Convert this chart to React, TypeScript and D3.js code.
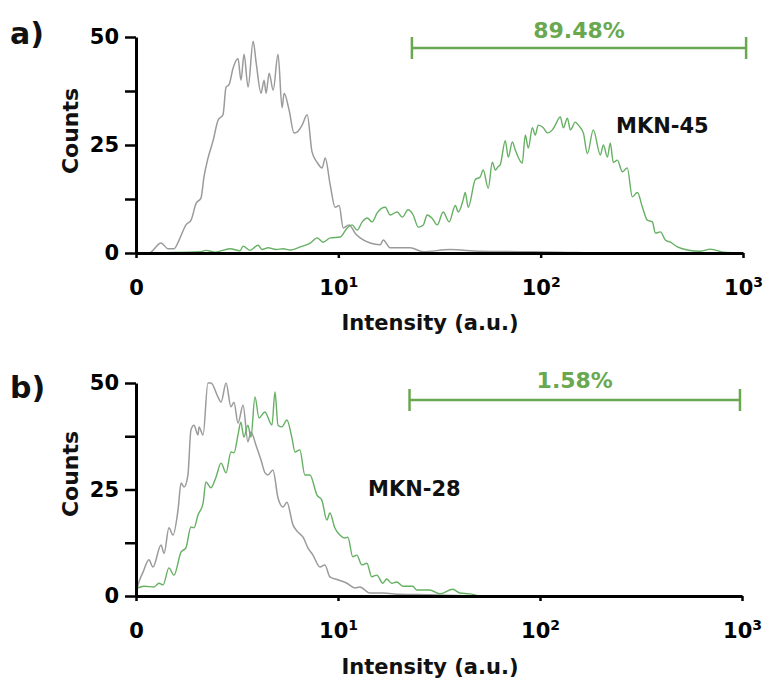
import React, { useRef, useEffect } from 'react';
import * as d3 from 'd3';

// [log10 intensity, counts]
const grayA = [
  [0, 0], [0.064, 0], [0.124, 2.3], [0.158, 1], [0.188, 1], [0.213, 3], [0.247, 6.5], [0.272, 7.6],
  [0.297, 11.5], [0.321, 12.7], [0.336, 17.6], [0.356, 22], [0.381, 26], [0.406, 30.8], [0.43, 32],
  [0.445, 38.4], [0.46, 39], [0.48, 42.8], [0.504, 45], [0.519, 40], [0.534, 46], [0.554, 38.4],
  [0.579, 49], [0.594, 44], [0.618, 37], [0.633, 40], [0.643, 37], [0.658, 41.6], [0.678, 37.7],
  [0.702, 46], [0.722, 33.6], [0.732, 37], [0.757, 33], [0.781, 27.8], [0.796, 28], [0.821, 29.6],
  [0.846, 32], [0.87, 23.4], [0.895, 21], [0.92, 19.7], [0.935, 22], [0.96, 15.7], [0.984, 10.6],
  [1.004, 11], [1.024, 5.8], [1.053, 6.5], [1.083, 4.6], [1.108, 3.5], [1.157, 2.3], [1.207, 1.9],
  [1.222, 3], [1.256, 1.2], [1.355, 1.2], [1.42, 0.3], [1.553, 0.8], [1.701, 0.4], [1.899, 0.3],
  [2.097, 0.2], [2.295, 0], [3, 0],
];

const greenA = [
  [0, 0], [0.317, 0.3], [0.346, 0.6], [0.391, 0.2], [0.465, 1], [0.514, 0.5], [0.529, 1.6], [0.564, 0.6],
  [0.603, 1.8], [0.623, 0.8], [0.653, 1.2], [0.692, 0.8], [0.727, 1], [0.762, 0.7], [0.811, 1.4],
  [0.861, 2.3], [0.895, 3.5], [0.925, 2.5], [0.96, 3.5], [1.009, 3.7], [1.044, 5.8], [1.068, 6.5],
  [1.093, 5.3], [1.118, 7.2], [1.143, 8.1], [1.167, 7.2], [1.192, 9.3], [1.232, 10.6], [1.256, 8.8],
  [1.291, 9.5], [1.316, 8.3], [1.345, 10], [1.37, 8.8], [1.395, 6], [1.42, 6.5], [1.439, 8.8],
  [1.464, 8], [1.489, 6.5], [1.518, 9.5], [1.548, 7.2], [1.578, 11], [1.593, 9.5], [1.617, 12.3],
  [1.627, 14], [1.642, 10.6], [1.677, 17], [1.701, 17.6], [1.716, 19.2], [1.741, 15], [1.761, 21],
  [1.776, 19.2], [1.79, 20], [1.8, 20.4], [1.825, 26], [1.84, 22.2], [1.86, 25.7], [1.875, 23.8],
  [1.909, 20.8], [1.924, 27.3], [1.939, 24.3], [1.959, 29], [1.973, 27.3], [1.988, 29.6], [2.013, 29],
  [2.033, 27.8], [2.058, 28.5], [2.072, 29.6], [2.097, 31.5], [2.112, 29], [2.132, 31.2], [2.147, 28.5],
  [2.171, 30.3], [2.186, 29.6], [2.211, 27.8], [2.231, 23], [2.26, 28.5], [2.295, 22.7], [2.31, 25],
  [2.33, 22.2], [2.344, 25.5], [2.359, 21], [2.379, 21.5], [2.404, 18.8], [2.428, 19.7], [2.453, 13],
  [2.478, 14], [2.503, 10.6], [2.527, 7.6], [2.552, 7.2], [2.567, 4.6], [2.592, 4.9], [2.616, 3],
  [2.641, 2.5], [2.676, 1.4], [2.725, 0.7], [2.79, 0.4], [2.839, 0.9], [2.903, 0.2], [3, 0],
];

const grayB = [
  [0, 0.5], [0.01, 2.6], [0.035, 5.6], [0.064, 8.5], [0.084, 6.8], [0.124, 12], [0.139, 10], [0.163, 16],
  [0.183, 14.3], [0.208, 20.2], [0.223, 26.5], [0.238, 25.6], [0.257, 28.4], [0.272, 39], [0.287, 40.1],
  [0.307, 37.8], [0.312, 39.7], [0.332, 37.8], [0.356, 50], [0.371, 50], [0.406, 46.7], [0.421, 45.5],
  [0.446, 50], [0.47, 44.4], [0.485, 45.5], [0.505, 40.6], [0.53, 44.8], [0.554, 36.2], [0.569, 38.5],
  [0.594, 35.4], [0.619, 31.9], [0.639, 28.9], [0.653, 28.4], [0.678, 29.6], [0.703, 23], [0.728, 20.9],
  [0.747, 22], [0.777, 16.7], [0.802, 15], [0.827, 13.8], [0.851, 11.3], [0.876, 9.6], [0.911, 6.8],
  [0.935, 7.3], [0.96, 4.5], [1, 3.8], [1.044, 3], [1.084, 1.9], [1.108, 2.1], [1.158, 0.7], [1.222, 0.7],
  [1.306, 0.4], [1.455, 0.3], [1.653, 0],
];

const greenB = [
  [0, 0.5], [0.01, 1.9], [0.04, 2.3], [0.089, 2.1], [0.114, 3], [0.134, 2.6], [0.163, 6.6], [0.188, 4.9],
  [0.223, 10.3], [0.247, 11.3], [0.272, 16.2], [0.287, 16], [0.307, 19], [0.332, 21.8], [0.346, 26.8],
  [0.371, 25.4], [0.396, 27.9], [0.421, 31.2], [0.446, 28.9], [0.47, 33.8], [0.485, 33.6], [0.505, 37.8],
  [0.519, 40.8], [0.534, 37.3], [0.554, 40.1], [0.569, 37.3], [0.589, 46.7], [0.609, 41.8], [0.638, 43.2],
  [0.673, 40.1], [0.688, 47.9], [0.703, 40.1], [0.722, 39.7], [0.747, 41.3], [0.772, 37.1], [0.787, 33.8],
  [0.811, 34.3], [0.836, 28.4], [0.861, 28.4], [0.896, 23.7], [0.92, 22.5], [0.945, 17.8], [0.96, 19.5],
  [0.984, 16], [1.009, 14.3], [1.034, 13.6], [1.049, 13.8], [1.073, 9.2], [1.093, 9.6], [1.118, 7.3],
  [1.143, 7.7], [1.167, 4.5], [1.192, 4.9], [1.222, 3], [1.241, 4], [1.266, 3], [1.291, 3.3], [1.321, 2.3],
  [1.37, 2.3], [1.39, 1.4], [1.454, 1.4], [1.504, 0.5], [1.568, 1.6], [1.603, 0.7], [1.652, 0.5], [1.702, 0],
];

const gateA = [23.1, 1036];
const gateB = [22.6, 977];
const gateLabels = ['89.48%', '1.58%'];
const cellLines = ['MKN-45', 'MKN-28'];
const panelLetters = ['a)', 'b)'];

const xTicks = [1, 10, 100, 1000];
const yTicks = [0, 12.5, 25, 37.5, 50];

const FONT = '"DejaVu Sans", sans-serif';
const GRAY = '#9b9b9b';
const GREEN = '#66b063';
const GATE = '#6aa84f';

const panels = [
  { gray: grayA, green: greenA, gate: gateA, left: 136, right: 743, top: 37, bottom: 253,
    gateY: 48, gateTextY: 38, cellX: 616, cellY: 133, letterY: 44, countsY: 131, titleY: 330 },
  { gray: grayB, green: greenB, gate: gateB, left: 136, right: 742, top: 383, bottom: 596,
    gateY: 400, gateTextY: 388, cellX: 368, cellY: 496, letterY: 398, countsY: 474, titleY: 674 },
];

const App = () => {
  const svgRef = useRef(null);

  useEffect(() => {
    const svg = d3.select(svgRef.current);
    svg.selectAll('*').remove();

    panels.forEach((p, i) => {
      const x = d3.scaleLog().domain([1, 1000]).range([p.left, p.right]);
      const y = d3.scaleLinear().domain([0, 50]).range([p.bottom, p.top]);
      const g = svg.append('g');

      const line = d3
        .line()
        .x(d => x(Math.pow(10, d[0])))
        .y(d => y(d[1]))
        .curve(d3.curveMonotoneX);

      g.append('path').datum(p.gray).attr('fill', 'none').attr('stroke', GRAY).attr('stroke-width', 1.5).attr('d', line);
      g.append('path').datum(p.green).attr('fill', 'none').attr('stroke', GREEN).attr('stroke-width', 1.4).attr('d', line);

      // y axis
      const ya = g
        .append('g')
        .attr('transform', `translate(${p.left},0)`)
        .call(
          d3.axisLeft(y)
            .tickValues(yTicks)
            .tickSize(11)
            .tickSizeOuter(0)
            .tickPadding(6)
            .tickFormat(d => (d % 25 === 0 ? String(d) : ''))
        );
      ya.attr('font-size', 21).attr('font-family', FONT).attr('font-weight', 'bold');
      ya.select('.domain').attr('stroke', '#000').attr('stroke-width', 3);
      ya.selectAll('.tick line').attr('stroke', '#000').attr('stroke-width', 2.5);
      ya.selectAll('.tick text').attr('fill', '#000');

      // x axis
      const xa = g
        .append('g')
        .attr('transform', `translate(0,${p.bottom})`)
        .call(d3.axisBottom(x).tickValues(xTicks).tickSize(5).tickSizeOuter(0).tickPadding(22).tickFormat(() => ''));
      xa.attr('font-size', 21).attr('font-family', FONT).attr('font-weight', 'bold');
      xa.select('.domain').attr('stroke', '#000').attr('stroke-width', 3);
      xa.selectAll('.tick line').attr('stroke', '#000').attr('stroke-width', 2.5);
      xa.selectAll('.tick text').attr('fill', '#000').each(function (d) {
        const t = d3.select(this);
        if (d === 1) {
          t.text('0');
        } else {
          t.append('tspan').text('10');
          t.append('tspan').attr('font-size', 14).attr('dy', -8).text(String(Math.round(Math.log10(d))));
        }
      });

      // gate
      const gx0 = x(p.gate[0]);
      const gx1 = x(p.gate[1]);
      g.append('line').attr('x1', gx0).attr('x2', gx1).attr('y1', p.gateY).attr('y2', p.gateY)
        .attr('stroke', GATE).attr('stroke-width', 2.5);
      [gx0, gx1].forEach(gx => {
        g.append('line').attr('x1', gx).attr('x2', gx).attr('y1', p.gateY - 11).attr('y2', p.gateY + 11)
          .attr('stroke', GATE).attr('stroke-width', 2.5);
      });
      g.append('text').attr('x', (gx0 + gx1) / 2).attr('y', p.gateTextY).attr('text-anchor', 'middle')
        .attr('font-family', FONT).attr('font-weight', 'bold').attr('font-size', 22).attr('fill', GATE)
        .text(gateLabels[i]);

      // labels
      g.append('text').attr('x', p.cellX).attr('y', p.cellY).attr('font-family', FONT).attr('font-weight', 'bold')
        .attr('font-size', 21).attr('fill', '#111').text(cellLines[i]);
      g.append('text').attr('x', 10).attr('y', p.letterY).attr('font-family', FONT).attr('font-weight', 'bold')
        .attr('font-size', 30).attr('fill', '#111').text(panelLetters[i]);
      g.append('text').attr('transform', `translate(78,${p.countsY}) rotate(-90)`).attr('text-anchor', 'middle')
        .attr('font-family', FONT).attr('font-weight', 'bold').attr('font-size', 22).attr('fill', '#111')
        .text('Counts');
      g.append('text').attr('x', 430).attr('y', p.titleY).attr('text-anchor', 'middle')
        .attr('font-family', FONT).attr('font-weight', 'bold').attr('font-size', 21).attr('fill', '#111')
        .text('Intensity (a.u.)');
    });
  }, []);

  return (
    <svg ref={svgRef} width={769} height={682} style={{ position: 'absolute', left: 0, top: 0, background: '#fff' }} />
  );
};

export default App;
